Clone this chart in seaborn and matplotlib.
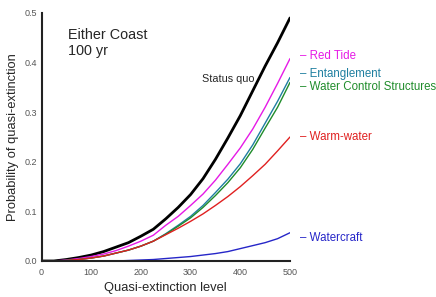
import pandas as pd
import matplotlib
matplotlib.use("Agg")
import matplotlib.pyplot as plt
import seaborn as sns
from matplotlib.ticker import MultipleLocator

# Dados (probabilidade de quase-extinção, 100 anos)
niveis = [0, 25, 50, 75, 100, 125, 150, 175, 200, 225, 250,
          275, 300, 325, 350, 375, 400, 425, 450, 475, 500]

status_quo = [0, 0, 0.003, 0.007, 0.012, 0.019, 0.028, 0.037, 0.050, 0.064, 0.085,
              0.108, 0.134, 0.166, 0.205, 0.248, 0.293, 0.343, 0.393, 0.440, 0.490]
red_tide = [0, 0, 0.002, 0.005, 0.009, 0.014, 0.021, 0.030, 0.040, 0.052, 0.072,
            0.090, 0.112, 0.135, 0.163, 0.195, 0.228, 0.266, 0.310, 0.358, 0.408]
entanglement = [0, 0, 0.001, 0.003, 0.006, 0.010, 0.016, 0.022, 0.030, 0.040, 0.055,
                0.072, 0.090, 0.112, 0.138, 0.165, 0.196, 0.234, 0.278, 0.322, 0.370]
water_control = [0, 0, 0.001, 0.003, 0.006, 0.010, 0.016, 0.022, 0.030, 0.040, 0.054,
                 0.070, 0.087, 0.108, 0.132, 0.158, 0.188, 0.225, 0.268, 0.310, 0.360]
warm_water = [0, 0, 0.001, 0.003, 0.006, 0.010, 0.016, 0.022, 0.030, 0.040, 0.053,
              0.066, 0.080, 0.095, 0.112, 0.130, 0.150, 0.172, 0.195, 0.222, 0.250]
watercraft = [0, 0, 0, 0, 0, 0, 0, 0.001, 0.002, 0.003, 0.005,
              0.007, 0.009, 0.012, 0.015, 0.019, 0.025, 0.031, 0.037, 0.045, 0.057]

series = {
    "Status quo": status_quo,
    "Red Tide": red_tide,
    "Entanglement": entanglement,
    "Water Control Structures": water_control,
    "Warm-water": warm_water,
    "Watercraft": watercraft,
}
cores = {
    "Status quo": "#000000",
    "Red Tide": "#e619e6",
    "Entanglement": "#1f7fa0",
    "Water Control Structures": "#1f8c2a",
    "Warm-water": "#e02020",
    "Watercraft": "#2626c8",
}
# posição vertical (px) dos rótulos à direita
rotulos_y = {
    "Red Tide": 56,
    "Entanglement": 74,
    "Water Control Structures": 87,
    "Warm-water": 137,
    "Watercraft": 238,
}

df = pd.DataFrame({
    "nivel": niveis * len(series),
    "prob": sum(series.values(), []),
    "cenario": sum([[k] * len(niveis) for k in series], []),
})

sns.set_style("white")
plt.rcParams["font.family"] = ["Liberation Sans", "DejaVu Sans"]

W, H = 436, 297
fig = plt.figure(figsize=(W / 100, H / 100), dpi=100)
ax = fig.add_axes([41.5 / W, 1 - 261 / H, (290 - 41.5) / W, (261 - 13) / H])

for nome in series:
    sub = df[df["cenario"] == nome]
    sns.lineplot(data=sub, x="nivel", y="prob", ax=ax, color=cores[nome],
                 linewidth=2.0 if nome == "Status quo" else 1.0, legend=False)

ax.set_xlim(0, 500)
ax.set_ylim(0, 0.5)
ax.xaxis.set_major_locator(MultipleLocator(100))
ax.yaxis.set_major_locator(MultipleLocator(0.1))
ax.yaxis.set_minor_locator(MultipleLocator(0.05))
ax.yaxis.set_major_formatter(plt.FuncFormatter(lambda v, p: f"{v:.1f}"))
ax.tick_params(axis="both", which="both", direction="in", colors="#222222",
               labelcolor="#555555", labelsize=6.5, width=1)
ax.tick_params(axis="both", which="major", length=3)
ax.tick_params(axis="x", which="major", pad=5)
ax.tick_params(axis="y", which="minor", length=2)
for s in ["top", "right"]:
    ax.spines[s].set_visible(False)
for s in ["left", "bottom"]:
    ax.spines[s].set_color("#222222")
    ax.spines[s].set_linewidth(1.5)

ax.set_xlabel("Quasi-extinction level", fontsize=9.3, labelpad=4)
ax.set_ylabel("Probability of quasi-extinction", fontsize=9.3, labelpad=4)

fig.text(68 / W, 1 - 43 / H, "Either Coast\n100 yr", fontsize=10.4, ha="left",
         va="center", linespacing=1.25)
fig.text(202 / W, 1 - 79 / H, "Status quo", fontsize=7.8, ha="left", va="center")
for nome, yp in rotulos_y.items():
    fig.text(300 / W, 1 - yp / H, "\u2013 " + nome, fontsize=8.3, ha="left",
             va="center", color=cores[nome])

fig.savefig("out.png", dpi=100)
